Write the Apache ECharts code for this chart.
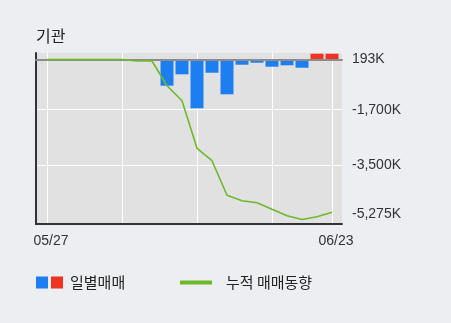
<!DOCTYPE html>
<html>
<head>
<meta charset="utf-8">
<script src="https://cdn.jsdelivr.net/npm/echarts@6/dist/echarts.min.js"></script>
<style>
html,body{margin:0;padding:0;background:#edeef2;}
#chart{width:451px;height:323px;}
</style>
</head>
<body>
<div id="chart"></div>
<script>
// ---- data ----
const dates = ['05/27','05/28','05/31','06/01','06/02','06/03','06/04','06/07','06/08','06/09','06/10','06/11','06/14','06/15','06/16','06/17','06/18','06/21','06/22','06/23'];
const dailyValues = [0,0,0,0,0,0,-49,0,-853,-482,-1588,-430,-1133,-169,-104,-234,-189,-267,189,189];
const cumulativeValues = [-66,-66,-66,-66,-66,-66,-115,-115,-919,-1407,-2956,-3360,-4486,-4662,-4727,-4942,-5150,-5275,-5183,-5040];
const yTickLabels = ['193K','-1,700K','-3,500K','-5,275K'];
const yGridValues = [-1700,-3500];
const xGridIndices = [0,5,10,15,19];
const xLabelIndices = [0,19];

const BLUE = '#1c7ef0', RED = '#ee3322', GREEN = '#6cb92c';
const LINE_MIN = -5420, LINE_MAX = 146;
const BAR_MIN = -5355, BAR_MAX = 212;
const labelPos = [LINE_MAX, yGridValues[0], yGridValues[1], LINE_MIN];

const chart = echarts.init(document.getElementById('chart'), null, {renderer:'canvas'});
const numFont = "'Liberation Sans', Arial, sans-serif";
const krFont = "'Noto Sans CJK KR', sans-serif";

chart.setOption({
  backgroundColor: '#edeef2',
  animation: false,
  title: {
    text: '기관', left: 36, top: 28, padding: 0,
    textStyle: {fontFamily: krFont, fontSize: 16, fontWeight: 'normal', color: '#222'}
  },
  grid: {left: 36, top: 53, width: 306, height: 171, show: true, backgroundColor: '#e1e1e1', borderWidth: 0},
  legend: [{
    left: 36, top: 275, padding: 0, selectedMode: false,
    itemWidth: 27, itemHeight: 12, itemGap: 10,
    textStyle: {fontFamily: krFont, fontSize: 15, color: '#222', padding: [0,0,0,2]},
    data: [{
      name: '일별매매',
      icon: 'path://M0,0h12v12h-12zM15,0h12v12h-12z',
      itemStyle: {color: {type:'linear', x:0, y:0, x2:1, y2:0, colorStops:[
        {offset:0,color:BLUE},{offset:0.5,color:BLUE},{offset:0.5,color:RED},{offset:1,color:RED}]}}
    }]
  },{
    left: 180, top: 275, padding: 0, selectedMode: false,
    itemWidth: 32, itemHeight: 4,
    textStyle: {fontFamily: krFont, fontSize: 15, color: '#222', padding: [0,0,0,9]},
    data: [{name: '누적 매매동향', icon: 'rect', itemStyle: {color: GREEN}}]
  }],
  xAxis: [{
    type: 'value', min: -0.7333, max: 19.6667, position: 'bottom', z: 3,
    axisLine: {show: true, onZero: false, lineStyle: {color: '#333', width: 2}},
    axisTick: {show: false},
    splitLine: {show: false},
    axisLabel: {
      customValues: xLabelIndices, margin: 10,
      fontFamily: numFont, fontSize: 14, color: '#333', padding: [0,0,0,8],
      formatter: v => dates[Math.round(v)]
    }
  },{
    type: 'value', min: -0.7333, max: 19.6667, z: 3,
    axisLine: {show: true, onZero: true, onZeroAxisIndex: 1, lineStyle: {color: '#8c8c8c', width: 2}},
    axisTick: {show: false}, axisLabel: {show: false}, splitLine: {show: false}
  }],
  yAxis: [{
    type: 'value', position: 'right', min: LINE_MIN, max: LINE_MAX,
    axisLine: {show: false}, axisTick: {show: false}, splitLine: {show: false},
    axisLabel: {
      customValues: labelPos, margin: 10,
      fontFamily: numFont, fontSize: 14, color: '#333',
      formatter: v => {
        const k = labelPos.indexOf(v);
        if (k === 0) return '{t|' + yTickLabels[k] + '}';
        if (k === labelPos.length - 1) return '{b|' + yTickLabels[k] + '}';
        return yTickLabels[k] || '';
      },
      rich: {
        t: {fontFamily: numFont, fontSize: 14, color: '#333', padding: [12,0,0,0]},
        b: {fontFamily: numFont, fontSize: 14, color: '#333', padding: [0,0,20,0]}
      }
    }
  },{
    type: 'value', position: 'left', min: BAR_MIN, max: BAR_MAX, z: 3,
    axisLine: {show: true, onZero: false, lineStyle: {color: '#333', width: 2}},
    axisTick: {show: false}, axisLabel: {show: false}, splitLine: {show: false}
  }],
  series: [{
    name: '일별매매', type: 'bar', xAxisIndex: 0, yAxisIndex: 1, z: 2,
    barWidth: 13,
    data: dailyValues.map((v, i) => [i, v]),
    itemStyle: {color: p => (p.value[1] >= 0 ? RED : BLUE)},
    markLine: {
      silent: true, symbol: 'none', z: 1, label: {show: false},
      lineStyle: {color: '#ffffff', width: 1, type: 'solid'},
      data: xGridIndices.map(i => ({xAxis: i}))
    }
  },{
    name: '누적 매매동향', type: 'line', xAxisIndex: 0, yAxisIndex: 0, z: 4,
    symbol: 'none',
    data: cumulativeValues.map((v, i) => [i, v]),
    lineStyle: {color: GREEN, width: 1.6},
    itemStyle: {color: GREEN},
    markLine: {
      silent: true, symbol: 'none', z: 1, label: {show: false},
      lineStyle: {color: '#ffffff', width: 1, type: 'solid'},
      data: yGridValues.map(v => ({yAxis: v}))
    }
  }]
});
</script>
</body>
</html>
